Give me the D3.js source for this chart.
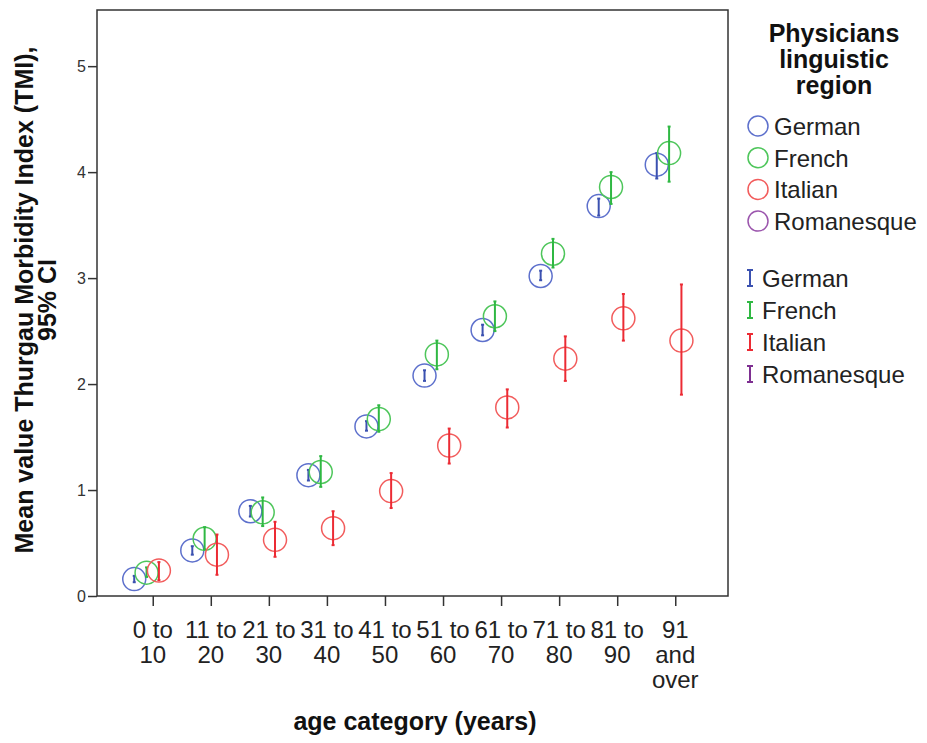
<!DOCTYPE html>
<html>
<head>
<meta charset="utf-8">
<script src="https://cdn.jsdelivr.net/npm/d3@7/dist/d3.min.js"></script>
<style>
  body { margin: 0; background: #fff; }
  svg { display: block; font-family: "Liberation Sans", Arial, sans-serif; }
</style>
</head>
<body>
<svg id="chart" width="927" height="743"></svg>
<script>
// Age categories (x axis), each label split over lines
const categories = ["0 to 10", "11 to 20", "21 to 30", "31 to 40", "41 to 50",
                    "51 to 60", "61 to 70", "71 to 80", "81 to 90", "91 and over"];
const categoryLines = [["0 to", "10"], ["11 to", "20"], ["21 to", "30"], ["31 to", "40"],
                       ["41 to", "50"], ["51 to", "60"], ["61 to", "70"], ["71 to", "80"],
                       ["81 to", "90"], ["91", "and", "over"]];

const regions = ["German", "French", "Italian", "Romanesque"];

// Mean TMI per age category and the 95% CI bounds
const germanMean  = [0.16, 0.43, 0.80, 1.14, 1.60, 2.08, 2.51, 3.02, 3.68, 4.07];
const germanLow   = [0.13, 0.39, 0.75, 1.09, 1.56, 2.03, 2.46, 2.98, 3.59, 3.94];
const germanHigh  = [0.19, 0.47, 0.85, 1.19, 1.65, 2.13, 2.56, 3.07, 3.75, 4.18];

const frenchMean  = [0.22, 0.54, 0.79, 1.17, 1.67, 2.28, 2.64, 3.23, 3.86, 4.18];
const frenchLow   = [0.18, 0.44, 0.66, 1.03, 1.55, 2.14, 2.50, 3.10, 3.70, 3.91];
const frenchHigh  = [0.27, 0.65, 0.93, 1.32, 1.80, 2.41, 2.78, 3.37, 4.00, 4.43];

const italianMean = [0.24, 0.39, 0.53, 0.64, 0.99, 1.42, 1.78, 2.24, 2.62, 2.41];
const italianLow  = [0.15, 0.20, 0.37, 0.48, 0.83, 1.25, 1.59, 2.03, 2.41, 1.90];
const italianHigh = [0.32, 0.58, 0.70, 0.80, 1.16, 1.58, 1.95, 2.45, 2.85, 2.94];

const yTicks = [0, 1, 2, 3, 4, 5];

const circleColors = ["#5d70cc", "#4ec65b", "#f25c5c", "#9b55ad"];
const barColors    = ["#3b51b0", "#2fb843", "#ec2b34", "#7e2f91"];

const series = [
  { region: "German",  mean: germanMean,  low: germanLow,  high: germanHigh },
  { region: "French",  mean: frenchMean,  low: frenchLow,  high: frenchHigh },
  { region: "Italian", mean: italianMean, low: italianLow, high: italianHigh }
];

const svg = d3.select("#chart");
const plot = { left: 97, right: 728, top: 10, bottom: 596 };

const x = d3.scalePoint().domain(categories)
  .range([plot.left, plot.right + 3]).padding(0.96);
const dodge = d3.scalePoint().domain(regions).range([-18.5, 18.5]);
const y = d3.scaleLinear().domain([0, 5.53]).range([plot.bottom, plot.top]);

const axisColor = "#333";

// Plot frame (also serves as the axis lines)
svg.append("rect")
  .attr("x", plot.left).attr("y", plot.top)
  .attr("width", plot.right - plot.left).attr("height", plot.bottom - plot.top)
  .attr("fill", "none").attr("stroke", axisColor).attr("stroke-width", 1.5);

// Y axis
const yAxis = svg.append("g")
  .attr("transform", `translate(${plot.left},0)`)
  .call(d3.axisLeft(y).tickValues(yTicks).tickFormat(d3.format("d"))
    .tickSize(9).tickSizeOuter(0).tickPadding(2));
yAxis.select(".domain").remove();
yAxis.selectAll(".tick line").attr("stroke", axisColor).attr("stroke-width", 1.5);
yAxis.selectAll(".tick text").attr("font-size", 16).attr("fill", "#333")
  .attr("font-family", "Liberation Sans, Arial, sans-serif");

// X axis
const xAxis = svg.append("g")
  .attr("transform", `translate(0,${plot.bottom})`)
  .call(d3.axisBottom(x).tickSize(10).tickSizeOuter(0).tickFormat(""));
xAxis.select(".domain").remove();
xAxis.selectAll(".tick line").attr("stroke", axisColor).attr("stroke-width", 1.5);

const tickLabels = svg.append("g").attr("fill", "#222").attr("font-size", 24)
  .attr("text-anchor", "middle");
categories.forEach((c, i) => {
  const t = tickLabels.append("text").attr("x", x(c)).attr("y", 638);
  categoryLines[i].forEach((ln, j) => {
    t.append("tspan").attr("x", x(c)).attr("dy", j === 0 ? 0 : 25).text(ln);
  });
});

// Axis titles
svg.append("text")
  .attr("x", 415).attr("y", 730)
  .attr("text-anchor", "middle").attr("font-size", 25).attr("font-weight", "bold")
  .attr("fill", "#111").text("age category (years)");

const yTitle = svg.append("text")
  .attr("transform", "translate(33,300) rotate(-90)")
  .attr("text-anchor", "middle").attr("font-size", 25).attr("font-weight", "bold")
  .attr("fill", "#111");
yTitle.append("tspan").attr("x", 0).attr("dy", 0).text("Mean value Thurgau Morbidity Index (TMI),");
yTitle.append("tspan").attr("x", 0).attr("dy", 23).text("95% CI");

// Markers and error bars
const marks = svg.append("g");
series.forEach(s => {
  const k = regions.indexOf(s.region);
  const g = marks.append("g");
  categories.forEach((c, i) => {
    const cx = x(c) + dodge(s.region);
    g.append("circle")
      .attr("cx", cx).attr("cy", y(s.mean[i])).attr("r", 11.5)
      .attr("fill", "none").attr("stroke", circleColors[k]).attr("stroke-width", 1.5);
  });
  categories.forEach((c, i) => {
    const cx = x(c) + dodge(s.region);
    g.append("line")
      .attr("x1", cx).attr("x2", cx)
      .attr("y1", y(s.low[i])).attr("y2", y(s.high[i]))
      .attr("stroke", barColors[k]).attr("stroke-width", 2);
    [s.low[i], s.high[i]].forEach(v => {
      g.append("line")
        .attr("x1", cx - 1.5).attr("x2", cx + 1.5)
        .attr("y1", y(v)).attr("y2", y(v))
        .attr("stroke", barColors[k]).attr("stroke-width", 2);
    });
  });
});

// Legend
const legend = svg.append("g").attr("fill", "#111");
const legendTitle = legend.append("text")
  .attr("x", 834).attr("y", 42)
  .attr("text-anchor", "middle").attr("font-size", 25).attr("font-weight", "bold");
["Physicians", "linguistic", "region"].forEach((ln, j) => {
  legendTitle.append("tspan").attr("x", 834).attr("dy", j === 0 ? 0 : 26).text(ln);
});

regions.forEach((r, k) => {
  const cy = 126 + k * 31.7;
  legend.append("circle")
    .attr("cx", 758).attr("cy", cy).attr("r", 10)
    .attr("fill", "none").attr("stroke", circleColors[k]).attr("stroke-width", 1.5);
  legend.append("text")
    .attr("x", 774).attr("y", cy + 9).attr("font-size", 24).attr("fill", "#222").text(r);
});

regions.forEach((r, k) => {
  const cy = 278 + k * 32;
  const bx = 750;
  const gI = legend.append("g").attr("stroke", barColors[k]).attr("stroke-width", 2);
  gI.append("line").attr("x1", bx).attr("x2", bx).attr("y1", cy - 8).attr("y2", cy + 8);
  gI.append("line").attr("x1", bx - 3).attr("x2", bx + 3).attr("y1", cy - 8).attr("y2", cy - 8);
  gI.append("line").attr("x1", bx - 3).attr("x2", bx + 3).attr("y1", cy + 8).attr("y2", cy + 8);
  legend.append("text")
    .attr("x", 762).attr("y", cy + 9).attr("font-size", 24).attr("fill", "#222").text(r);
});
</script>
</body>
</html>
